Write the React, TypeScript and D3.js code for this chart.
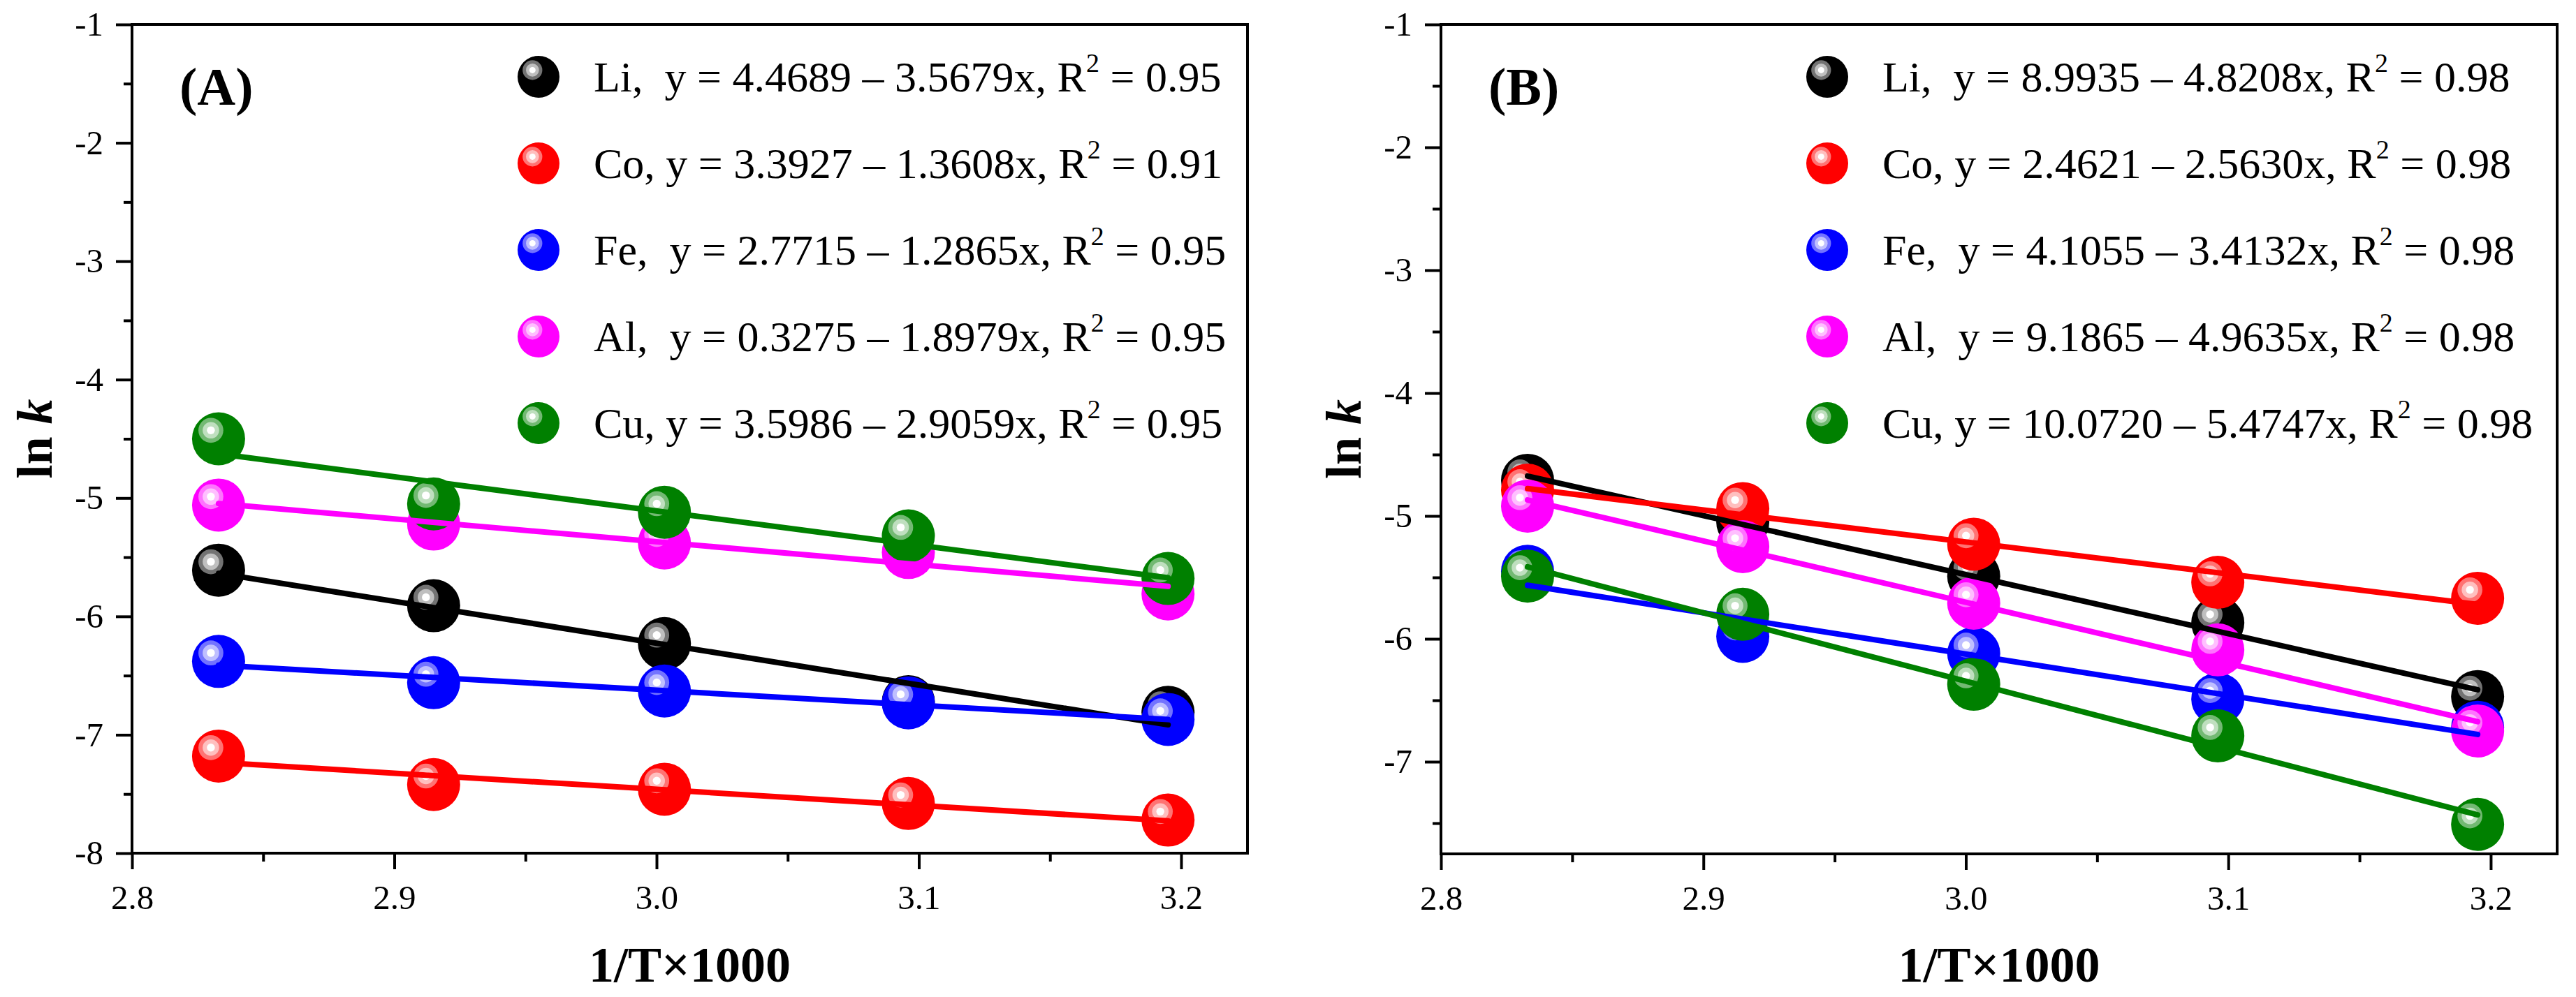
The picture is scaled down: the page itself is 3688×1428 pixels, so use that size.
import React, { useRef, useEffect } from 'react';
import * as d3 from 'd3';

// 1000/T for the five temperatures
const xValues = [2.833, 2.915, 3.003, 3.096, 3.195];
const metals = ['Li', 'Co', 'Fe', 'Al', 'Cu'];
const colors = ['#000000', '#ff0000', '#0000ff', '#ff00ff', '#008000'];

// panel A, ln k
const liA = [-5.61, -5.91, -6.23, -6.72, -6.81];
const coA = [-7.18, -7.42, -7.46, -7.58, -7.72];
const feA = [-6.38, -6.56, -6.63, -6.73, -6.87];
const alA = [-5.06, -5.22, -5.38, -5.46, -5.81];
const cuA = [-4.5, -5.05, -5.12, -5.32, -5.68];

// panel B, ln k
const liB = [-4.71, -5.05, -5.49, -5.87, -6.47];
const coB = [-4.79, -4.94, -5.23, -5.54, -5.67];
const feB = [-5.45, -5.98, -6.12, -6.49, -6.72];
const alB = [-4.92, -5.25, -5.71, -6.09, -6.75];
const cuB = [-5.49, -5.8, -6.37, -6.79, -7.51];

// legend text
const prefixes = ['Li,  y', 'Co, y', 'Fe,  y', 'Al,  y', 'Cu, y'];
const interceptsA = ['4.4689', '3.3927', '2.7715', '0.3275', '3.5986'];
const slopesA = ['3.5679', '1.3608', '1.2865', '1.8979', '2.9059'];
const r2A = ['0.95', '0.91', '0.95', '0.95', '0.95'];
const interceptsB = ['8.9935', '2.4621', '4.1055', '9.1865', '10.0720'];
const slopesB = ['4.8208', '2.5630', '3.4132', '4.9635', '5.4747'];
const r2B = ['0.98', '0.98', '0.98', '0.98', '0.98'];

const xTicks = [2.8, 2.9, 3.0, 3.1, 3.2];
const xMinor = [2.85, 2.95, 3.05, 3.15];
const yTicksA = [-8, -7, -6, -5, -4, -3, -2, -1];
const yTicksB = [-7, -6, -5, -4, -3, -2, -1];
const yMinor = [-7.5, -6.5, -5.5, -4.5, -3.5, -2.5, -1.5];

const FONT = '"Liberation Serif", "Times New Roman", serif';

function fit(xs: number[], ys: number[]) {
  const mx = d3.mean(xs)!;
  const my = d3.mean(ys)!;
  const sxy = d3.sum(xs, (x, i) => (x - mx) * (ys[i] - my));
  const sxx = d3.sum(xs, (x) => (x - mx) * (x - mx));
  const b = sxy / sxx;
  return (x: number) => my + b * (x - mx);
}

function Axis({ scale, orient, transform, ticks, minor, format }: any) {
  const ref = useRef<SVGGElement>(null);
  useEffect(() => {
    const g = d3.select(ref.current);
    g.selectAll('*').remove();
    const make = orient === 'left' ? d3.axisLeft : d3.axisBottom;
    const mg = g.append('g').call(
      make(scale).tickValues(minor).tickSize(12).tickSizeOuter(0).tickFormat(() => '')
    );
    mg.select('.domain').remove();
    const Mg = g.append('g').call(
      make(scale).tickValues(ticks).tickSize(23).tickSizeOuter(0)
        .tickPadding(orient === 'left' ? 18 : 22).tickFormat(format)
    );
    Mg.select('.domain').remove();
    g.selectAll('line').attr('stroke', '#000').attr('stroke-width', 4);
    g.selectAll('text')
      .attr('font-family', FONT)
      .attr('font-size', 49)
      .attr('fill', '#000');
  }, [scale, orient, ticks, minor, format]);
  return <g ref={ref} transform={transform} />;
}

function Ball({ cx, cy, r, color }: { cx: number; cy: number; r: number; color: string }) {
  const hx = cx - r * 0.29;
  const hy = cy - r * 0.32;
  const mix = d3.interpolateRgb(color, '#ffffff');
  return (
    <g>
      <circle cx={cx} cy={cy} r={r} fill={color} />
      <circle cx={hx} cy={hy} r={r * 0.47} fill={mix(0.45)} />
      <circle cx={hx} cy={hy} r={r * 0.31} fill={mix(0.75)} />
      <circle cx={hx} cy={hy} r={r * 0.15} fill="#ffffff" />
    </g>
  );
}

function Panel({ left, right, top, bottom, yDomain, yTicks, series, letter,
  intercepts, slopes, r2, legendX }: any) {
  const x = d3.scaleLinear().domain([2.8, 3.2253]).range([left, right]);
  const y = d3.scaleLinear().domain(yDomain).range([bottom, top]);
  const fits = series.map((s: number[]) => fit(xValues, s));
  const x0 = xValues[0];
  const x1 = xValues[xValues.length - 1];
  const fmtY = (d: number) => String(d);
  const fmtX = d3.format('.1f');
  const cxMid = (left + right) / 2;
  const cyMid = (top + bottom) / 2;
  return (
    <g>
      {series.map((s: number[], i: number) => (
        <g key={metals[i]}>
          {s.map((v, j) => (
            <Ball key={j} cx={x(xValues[j])} cy={y(v)} r={38} color={colors[i]} />
          ))}
        </g>
      ))}
      {fits.map((f: (v: number) => number, i: number) => (
        <line key={metals[i]} x1={x(x0)} y1={y(f(x0))} x2={x(x1)} y2={y(f(x1))}
          stroke={colors[i]} strokeWidth={8} strokeLinecap="round" />
      ))}
      <rect x={left} y={top} width={right - left} height={bottom - top}
        fill="none" stroke="#000" strokeWidth={4} />
      <Axis scale={y} orient="left" transform={`translate(${left},0)`}
        ticks={yTicks} minor={yMinor} format={fmtY} />
      <Axis scale={x} orient="bottom" transform={`translate(0,${bottom})`}
        ticks={xTicks} minor={xMinor} format={fmtX} />
      <text x={left + 68} y={150} fontFamily={FONT} fontWeight="bold" fontSize={76}>
        {`(${letter})`}
      </text>
      {metals.map((m, i) => {
        const ly = 110 + i * 124;
        return (
          <g key={m}>
            <Ball cx={legendX} cy={ly} r={30} color={colors[i]} />
            <text x={legendX + 79} y={ly + 21} fontFamily={FONT} fontSize={62}
              style={{ whiteSpace: 'pre' }}>
              {`${prefixes[i]} = ${intercepts[i]} – ${slopes[i]}x, R`}
              <tspan fontSize={38} dy={-28}>2</tspan>
              <tspan fontSize={62} dy={28}>{` = ${r2[i]}`}</tspan>
            </text>
          </g>
        );
      })}
      <text x={cxMid} y={1406} textAnchor="middle" fontFamily={FONT}
        fontWeight="bold" fontSize={72}>
        1/T×1000
      </text>
      <text transform={`translate(${left - 115},${cyMid}) rotate(-90)`} textAnchor="middle"
        fontFamily={FONT} fontWeight="bold" fontSize={72}>
        ln <tspan fontStyle="italic">k</tspan>
      </text>
    </g>
  );
}

export default function App() {
  return (
    <div style={{ position: 'fixed', left: 0, top: 0, background: '#fff' }}>
      <svg width={3688} height={1428} viewBox="0 0 3688 1428" style={{ display: 'block' }}>
        <rect width={3688} height={1428} fill="#fff" />
        <Panel left={189} right={1786} top={35} bottom={1222} yDomain={[-8, -1]}
          yTicks={yTicksA} series={[liA, coA, feA, alA, cuA]} letter="A"
          intercepts={interceptsA} slopes={slopesA} r2={r2A} legendX={771} />
        <Panel left={2063} right={3661} top={35} bottom={1223} yDomain={[-7.75, -1]}
          yTicks={yTicksB} series={[liB, coB, feB, alB, cuB]} letter="B"
          intercepts={interceptsB} slopes={slopesB} r2={r2B} legendX={2616} />
      </svg>
    </div>
  );
}
